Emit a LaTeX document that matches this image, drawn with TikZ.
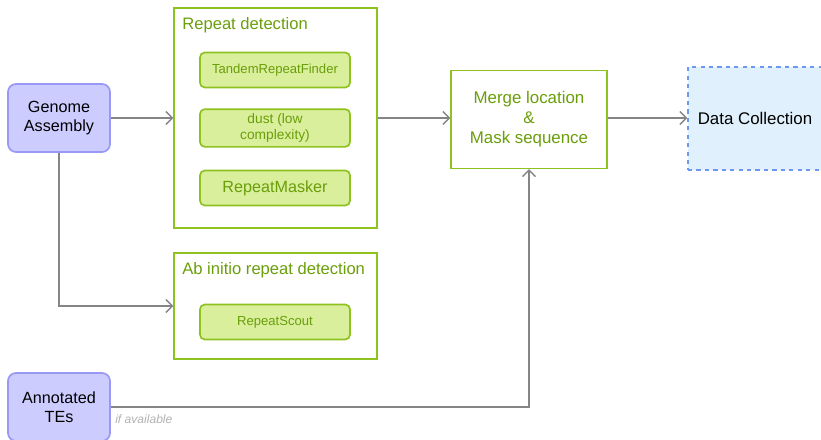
\documentclass[tikz,border=0pt]{standalone}
\usepackage{fontspec}
\setmainfont{Liberation Sans}
\usetikzlibrary{positioning, arrows.meta}
\definecolor{LeafLine}{HTML}{8DC21F}
\definecolor{LeafText}{HTML}{6A9E0A}
\definecolor{LeafFill}{HTML}{D9EF9B}
\definecolor{Lilac}{HTML}{CCCCFF}
\definecolor{LilacLine}{HTML}{9999F5}
\definecolor{SkyFill}{HTML}{E0F1FD}
\definecolor{SkyLine}{HTML}{6E98F0}
\definecolor{Arrow}{HTML}{858585}

\begin{document}
\begin{tikzpicture}[x=0.025cm, y=-0.025cm,
    input/.style={draw=LilacLine, line width=1.2pt, fill=Lilac, rounded corners=0.2cm, minimum width=2.55cm, minimum height=1.7cm, align=center, font=\fontsize{11.5}{13.5}\selectfont},
    group/.style={draw=LeafLine, line width=1pt, minimum width=5.075cm},
    title/.style={font=\fontsize{11.8}{13}\selectfont, text=LeafText, inner sep=0pt, anchor=north west},
    tool/.style={draw=LeafLine, line width=1.2pt, fill=LeafFill, rounded corners=0.12cm, minimum width=3.75cm, minimum height=0.875cm, align=center, text=LeafText, font=\fontsize{9.3}{10.5}\selectfont},
    flow/.style={Arrow, line width=1pt, -{Straight Barb[length=1.6mm, width=3.2mm]}}
]
\useasboundingbox (0,0) rectangle (821,440);

% Inputs
\node[input] (genome) at (59,118) {Genome\\Assembly};
\node[input] (tes) at (59,407) {Annotated\\TEs};

% Repeat detection
\node[group, minimum height=5.5cm] (detect) at (275.5,118) {};
\node[title] at ([xshift=0.22cm, yshift=-0.25cm]detect.north west) {Repeat detection};
\node[tool] (trf) at (275,70) {TandemRepeatFinder};
\node[tool, font=\fontsize{9.8}{11}\selectfont] (dust) at (275,128) {dust (low\\complexity)};
\node[tool, font=\fontsize{11.5}{13}\selectfont] (masker) at (275,188) {RepeatMasker};

% Ab initio
\node[group, minimum height=2.65cm] (abinit) at (275.5,306) {};
\node[title] at ([xshift=0.22cm, yshift=-0.25cm]abinit.north west) {Ab initio repeat detection};
\node[tool] (scout) at (275,322) {RepeatScout};

% Merge and output
\node[draw=LeafLine, line width=1pt, minimum width=3.9cm, minimum height=2.45cm, align=center, text=LeafText, font=\fontsize{12}{14.2}\selectfont] (merge) at (529,119.5) {Merge location\\\&\\Mask sequence};
\node[draw=SkyLine, dashed, line width=1pt, fill=SkyFill, minimum width=3.35cm, minimum height=2.575cm, font=\fontsize{12}{14}\selectfont] (collect) at (755,118.5) {Data Collection};

% Connectors
\draw[flow] (genome.east) -- (detect.west |- genome.east);
\draw[flow] (genome.south) |- (abinit.west);
\draw[flow] (detect.east |- genome.east) -- (merge.west |- genome.east);
\draw[flow] (merge.east |- genome.east) -- (collect.west |- genome.east);
\draw[flow] (tes.east) -| (merge.south);
\node[anchor=west, inner sep=0pt, text=gray!60, font=\fontsize{8.6}{9}\selectfont\itshape] (note) at (115,419) {if available};

\end{tikzpicture}
\end{document}
